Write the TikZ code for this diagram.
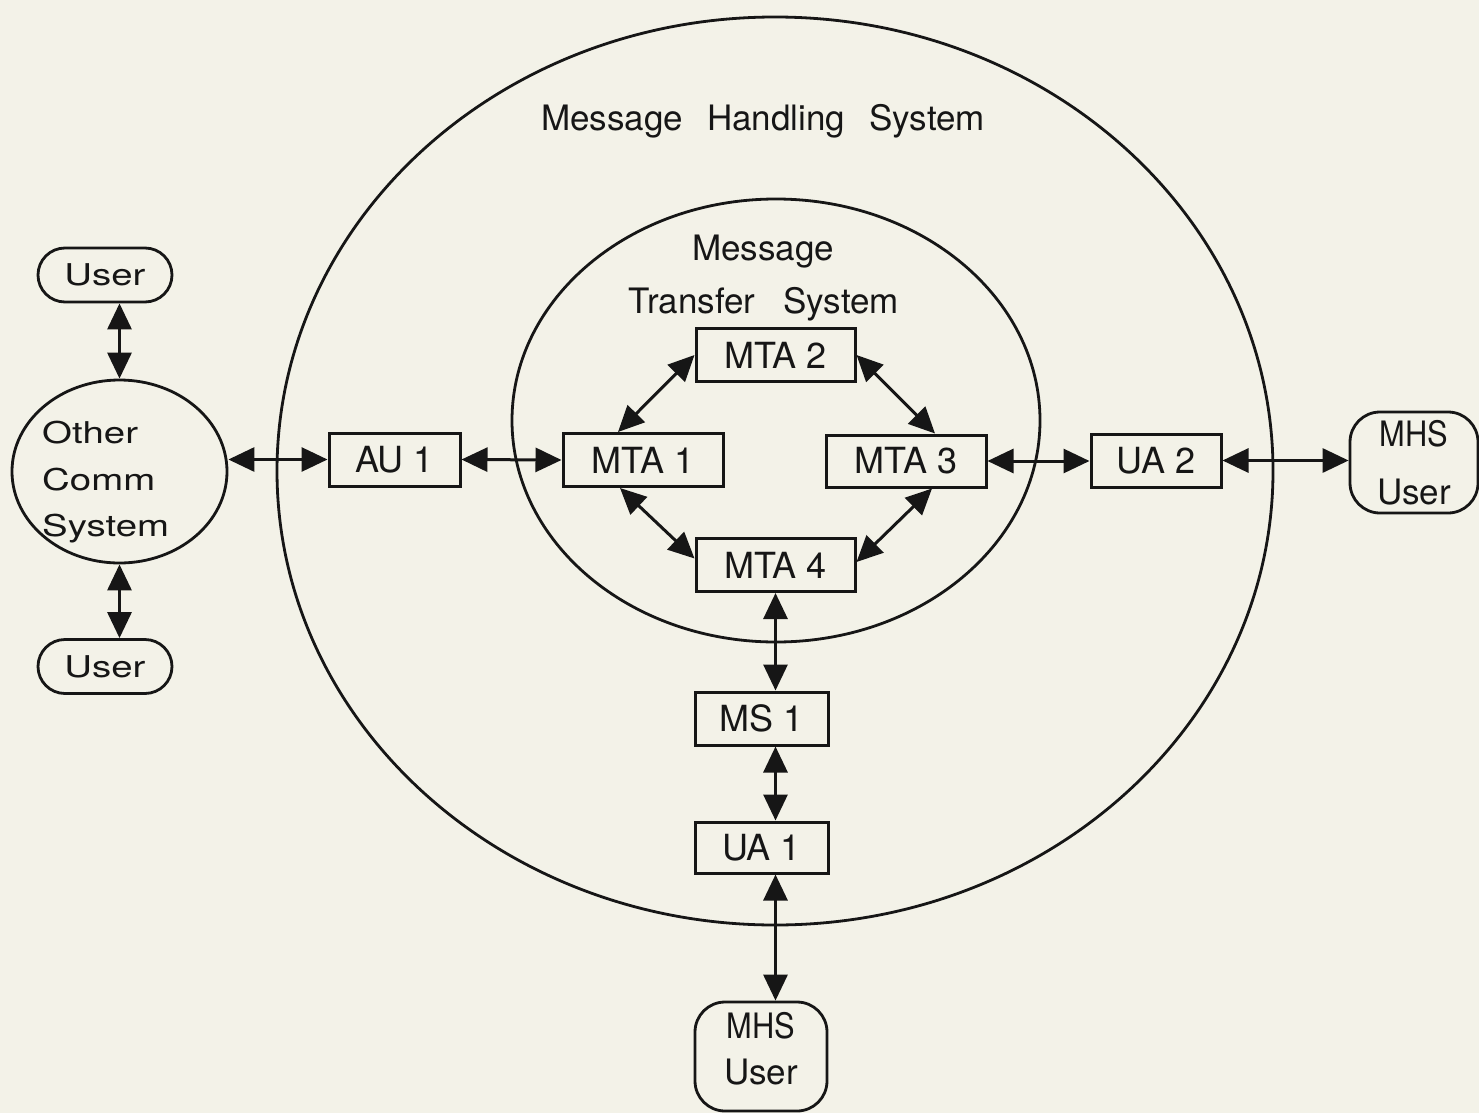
\documentclass[tikz,border=0pt]{standalone}
\usepackage{fontspec}
\setmainfont{TeX Gyre Heros}
\newfontfamily\widefont[FakeStretch=1.28]{TeX Gyre Heros}
\newfontfamily\narrowfont[FakeStretch=0.88]{TeX Gyre Heros}
\usetikzlibrary{shapes.geometric,arrows.meta}
\definecolor{paper}{RGB}{243,242,232}
\definecolor{ink}{RGB}{22,22,22}

\begin{document}
\begin{tikzpicture}[x=1pt,y=-1pt,
  every node/.style={inner sep=0pt, text=ink},
  region/.style={draw=ink, ellipse, line width=2.8pt},
  agent/.style={draw=ink, line width=3pt, minimum height=53pt,
                font=\fontsize{36}{40}\selectfont},
  pill/.style={draw=ink, line width=2.8pt, rounded corners=27pt,
               minimum width=134pt, minimum height=54pt,
               font=\widefont\fontsize{30}{36}\selectfont},
  mhsuser/.style={draw=ink, line width=2.8pt, rounded corners=30pt, align=center},
  title/.style={anchor=base, font=\fontsize{35}{40}\selectfont},
  link/.style={draw=ink, line width=3pt,
               {Triangle[length=26pt,width=24pt]}-{Triangle[length=26pt,width=24pt]}},
]
% paper and page frame
\fill[paper] (0,0) rectangle (1479,1113);
\useasboundingbox (0,0) rectangle (1479,1113);

% the two system regions
\node[region, minimum width=996pt, minimum height=908pt] (mhs) at (775,471) {};
\node[region, minimum width=528pt, minimum height=443pt] (mts) at (776,420.5) {};
\node[title] (mhslabel) at (763,130) {\spaceskip=24pt Message Handling System};
\node[title] (mtslabel1) at (763,260) {Message};
\node[title] (mtslabel2) at (764,313) {\spaceskip=28pt Transfer System};

% message transfer agents
\node[agent, minimum width=159pt] (mta2) at (775.5,355) {MTA 2};
\node[agent, minimum width=160pt] (mta1) at (643,460) {MTA 1};
\node[agent, minimum width=160pt, minimum height=52pt] (mta3) at (906,461) {MTA 3};
\node[agent, minimum width=159pt] (mta4) at (775.5,565) {MTA 4};

% access units, user agents, message store
\node[agent, minimum width=131pt] (au1) at (394.5,459.5) {AU 1};
\node[agent, minimum width=130pt] (ua2) at (1156,460.5) {UA 2};
\node[agent, minimum width=133pt] (ms1) at (761.5,718.5) {MS 1};
\node[agent, minimum width=133pt, minimum height=51pt] (ua1) at (761.5,847.5) {UA 1};

% other communication system and its users
\node[region, minimum width=215pt, minimum height=183pt] (oc) at (119.5,471.5) {};
\node[anchor=north west, align=left, font=\widefont\fontsize{30}{46.5}\selectfont]
  (octext) at (42,421) {Other\\Comm\\System};
\node[pill] (usr1) at (105,275) {User};
\node[pill] (usr2) at (105,666.5) {User};

% MHS users
\node[mhsuser, minimum width=128pt, minimum height=101pt,
      font=\fontsize{35}{58}\selectfont] (mhsR) at (1414,462.5)
  {{\narrowfont MHS}\\User};
\node[mhsuser, minimum width=132pt, minimum height=109pt, text depth=17pt,
      font=\fontsize{35}{46}\selectfont] (mhsB) at (761,1056.5)
  {{\narrowfont MHS}\\User};

% connectors
\draw[link] (usr1.south -| oc.north) -- (oc.north);
\draw[link] (oc.south) -- (oc.south |- usr2.north);
\draw[link] (au1.west -| oc.east) -- (au1.west);
\draw[link] (au1.east) -- (mta1.west);
\draw[link] ([xshift=-25pt]mta1.north) -- (mta2.west);
\draw[link] (mta2.east) -- ([xshift=29pt]mta3.north);
\draw[link] ([xshift=-23pt]mta1.south) -- ([yshift=6.5pt]mta4.west);
\draw[link] ([xshift=26pt]mta3.south) -- ([yshift=3pt]mta4.east);
\draw[link] (mta3.east) -- (mta3.east -| ua2.west);
\draw[link] (ua2.east) -- (ua2.east -| mhsR.west);
\draw[link] (mta4.south) -- (mta4.south |- ms1.north);
\draw[link] (ms1.south -| mta4.south) -- (ua1.north -| mta4.south);
\draw[link] (ua1.south -| mta4.south) -- (mhsB.north -| mta4.south);
\end{tikzpicture}
\end{document}
